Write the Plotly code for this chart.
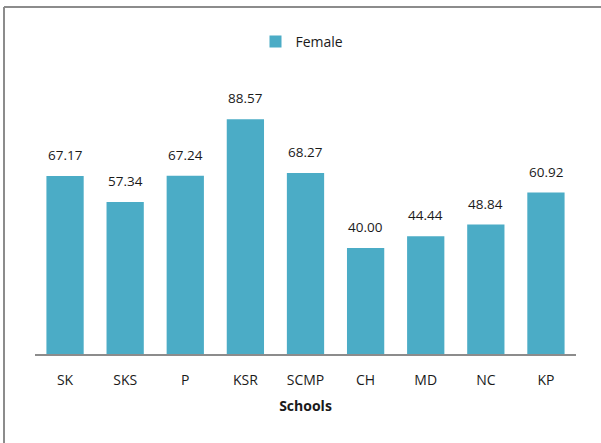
import plotly.graph_objects as go

schools = ["SK", "SKS", "P", "KSR", "SCMP", "CH", "MD", "NC", "KP"]
female = [67.17, 57.34, 67.24, 88.57, 68.27, 40.00, 44.44, 48.84, 60.92]

W, H = 601, 443
L, R, T, B = 35, 25, 89, 89
pw, ph = W - L - R, H - T - B

bar_color = "#4BACC6"
family = "Open Sans, Noto Sans, sans-serif"
font = dict(family=family, size=13.5, color="#1a1a1a")
tick_font = dict(family=family, size=14, color="#1a1a1a")

fig = go.Figure()
fig.add_trace(go.Bar(
    x=schools, y=female, name="Female",
    marker=dict(color=bar_color, line=dict(width=0)),
    showlegend=True,
))

# value labels above each bar
for s, v in zip(schools, female):
    fig.add_annotation(x=s, y=v, text=f"{v:.2f}", showarrow=False,
                       yanchor="bottom", yshift=10, font=font)

# outer frame (top and left edges)
def px_x(p):
    return (p - L) / pw

def px_y(p):
    return (H - B - p) / ph

frame = dict(color="#8c8c8c", width=2)
fig.add_shape(type="line", xref="paper", yref="paper",
              x0=px_x(4), x1=px_x(602), y0=px_y(7), y1=px_y(7), line=frame)
fig.add_shape(type="line", xref="paper", yref="paper",
              x0=px_x(4), x1=px_x(4), y0=px_y(7), y1=px_y(445), line=frame)

fig.update_layout(
    width=W, height=H,
    margin=dict(l=L, r=R, t=T, b=B),
    paper_bgcolor="white", plot_bgcolor="white",
    bargap=0.38,
    font=font,
    legend=dict(orientation="h", x=px_x(302), xanchor="center",
                y=px_y(42), yanchor="middle", font=tick_font,
                itemwidth=30, traceorder="normal"),
    xaxis=dict(showline=True, linecolor="#8c8c8c", linewidth=2,
               ticks="", showgrid=False, tickfont=tick_font,
               ticklabelstandoff=12,
               title=dict(text="<b>Schools</b>", font=tick_font, standoff=13)),
    yaxis=dict(range=[0, 100], visible=False, showgrid=False),
)

fig.write_html("out.html")
